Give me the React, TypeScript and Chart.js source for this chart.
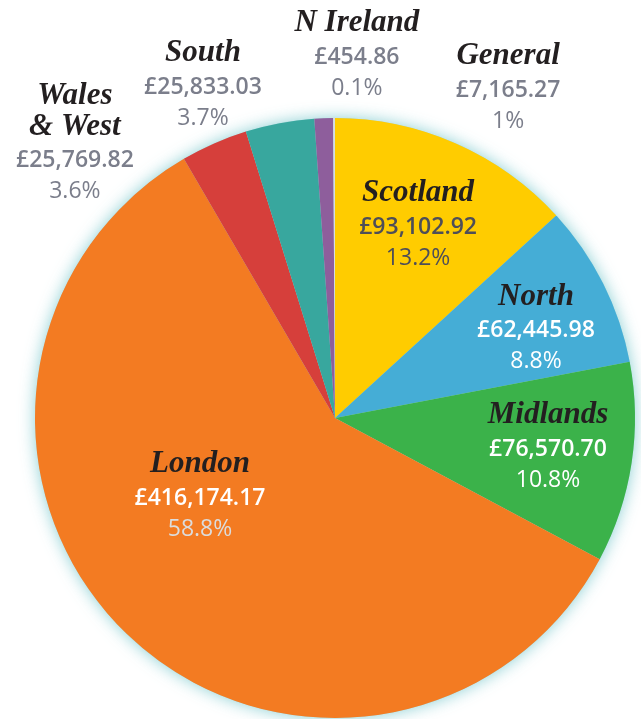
import React, { useEffect, useRef } from "react";
import { Chart, registerables } from "chart.js";

Chart.register(...registerables);

const regions = ["Scotland", "North", "Midlands", "London", "Wales\n& West", "South", "General", "N Ireland"];
const amounts = ["£93,102.92", "£62,445.98", "£76,570.70", "£416,174.17", "£25,769.82", "£25,833.03", "£7,165.27", "£454.86"];
const percentLabels = ["13.2%", "8.8%", "10.8%", "58.8%", "3.6%", "3.7%", "1%", "0.1%"];
const shares = [13.2, 8.8, 10.8, 58.8, 3.6, 3.7, 1.0, 0.1];

const sliceColors = ["#FFCC00", "#45ADD6", "#3BB24A", "#F37B22", "#D63F3B", "#38A79E", "#8E5E9C", "#D8DCE0"];
// label anchor (name line) as offset from pie centre, in units of radius
const labelAnchors = [
  [0.277, -0.753],
  [0.670, -0.407],
  [0.710, -0.013],
  [-0.450, 0.150],
  [-0.867, -1.077],
  [-0.440, -1.220],
  [0.577, -1.210],
  [0.073, -1.320],
];
const nameColors = ["#231f20", "#231f20", "#231f20", "#231f20", "#231f20", "#231f20", "#231f20", "#231f20"];
const amountColors = ["#4e4e58", "#ffffff", "#ffffff", "#ffffff", "#7b7e8b", "#7b7e8b", "#7b7e8b", "#7b7e8b"];
const pctColors = ["#4e4e58", "#ffffff", "#ffffff", "#dcdcdc", "#7b7e8b", "#7b7e8b", "#7b7e8b", "#7b7e8b"];

const glowPlugin = {
  id: "glow",
  beforeDatasetsDraw(chart: any) {
    const arc = chart.getDatasetMeta(0).data[0];
    if (!arc) return;
    const { x, y, outerRadius } = arc;
    const ctx = chart.ctx;
    ctx.save();
    ctx.shadowColor = "rgba(110,195,200,0.8)";
    ctx.shadowBlur = 16;
    ctx.fillStyle = "#a8d8da";
    ctx.beginPath();
    ctx.arc(x, y, outerRadius, 0, Math.PI * 2);
    ctx.fill();
    ctx.restore();
  },
};

const labelPlugin = {
  id: "labels",
  afterDatasetsDraw(chart: any) {
    const meta = chart.getDatasetMeta(0);
    const arc = meta.data[0];
    if (!arc) return;
    const { x: cx, y: cy, outerRadius: R } = arc;
    const ctx = chart.ctx;
    ctx.save();
    ctx.textAlign = "center";
    ctx.textBaseline = "middle";
    regions.forEach((name, i) => {
      const ax = cx + labelAnchors[i][0] * R;
      let ay = cy + labelAnchors[i][1] * R + 1;
      const lines = name.split("\n");
      ctx.font = "bold italic 31px 'Liberation Serif'";
      ctx.fillStyle = nameColors[i];
      lines.forEach((ln) => {
        ctx.fillText(ln, ax, ay);
        ay += 31;
      });
      ay += 3;
      ctx.font = "600 23px 'Open Sans'";
      ctx.fillStyle = amountColors[i];
      ctx.fillText(amounts[i], ax, ay);
      ay += 31;
      ctx.font = "400 23px 'Open Sans'";
      ctx.fillStyle = pctColors[i];
      ctx.fillText(percentLabels[i], ax, ay);
    });
    ctx.restore();
  },
};

export default function App() {
  const ref = useRef<HTMLCanvasElement>(null);
  useEffect(() => {
    document.body.style.margin = "0";
    const chart = new Chart(ref.current as HTMLCanvasElement, {
      type: "pie",
      data: {
        labels: regions,
        datasets: [
          {
            data: shares,
            backgroundColor: sliceColors,
            borderWidth: 0,
          },
        ],
      },
      options: {
        responsive: false,
        animation: false,
        layout: { padding: { left: 35, right: 6, top: 118, bottom: 1 } },
        plugins: { legend: { display: false }, tooltip: { enabled: false } },
      },
      plugins: [glowPlugin, labelPlugin],
    });
    return () => chart.destroy();
  }, []);
  return (
    <div style={{ position: "absolute", left: 0, top: 0, width: 641, height: 719, background: "#fff" }}>
      <canvas ref={ref} width={641} height={719} />
    </div>
  );
}
